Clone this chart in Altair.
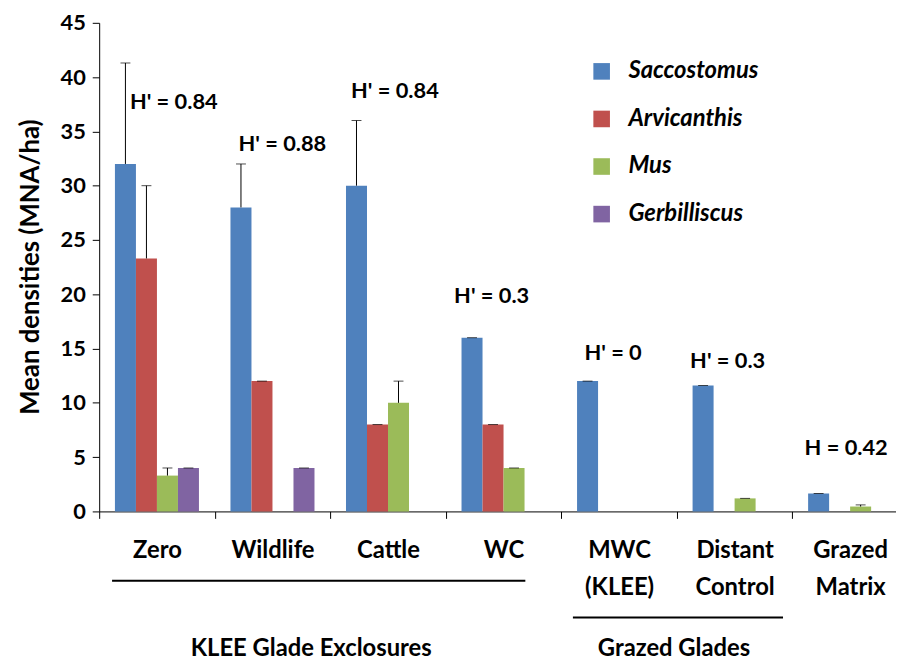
import altair as alt
import pandas as pd

FONT = "Lato"

categories = ["Zero", "Wildlife", "Cattle", "WC", "MWC (KLEE)", "Distant Control", "Grazed Matrix"]
species = ["Saccostomus", "Arvicanthis", "Mus", "Gerbilliscus"]
colors = ["#4F81BD", "#C0504D", "#9BBB59", "#8064A2"]

# mean densities (MNA/ha); None = no bar
saccostomus = [32.0, 28.0, 30.0, 16.0, 12.0, 11.6, 1.65]
arvicanthis = [23.3, 12.0, 8.0, 8.0, None, None, None]
mus = [3.3, None, 10.0, 4.0, None, 1.2, 0.45]
gerbilliscus = [4.0, 4.0, None, None, None, None, None]

# upper error (SE)
saccostomus_err = [9.3, 4.0, 6.0, 0.0, 0.0, 0.0, 0.0]
arvicanthis_err = [6.7, 0.0, 0.0, 0.0, 0.0, 0.0, 0.0]
mus_err = [0.7, 0.0, 2.0, 0.0, 0.0, 0.0, 0.15]
gerbilliscus_err = [0.0, 0.0, 0.0, 0.0, 0.0, 0.0, 0.0]

# diversity annotations
h_labels = ["H' = 0.84", "H' = 0.88", "H' = 0.84", "H' = 0.3", "H' = 0", "H' = 0.3", "H = 0.42"]
h_label_y = [37.7, 33.8, 38.76, 19.8, 14.58, 13.81, 5.81]
h_label_dx = [17, 10, 7, -12, -6, -7, -4]

group_labels = ["KLEE Glade Exclosures", "Grazed Glades"]

rows = []
for sp, vals, errs in [
    ("Saccostomus", saccostomus, saccostomus_err),
    ("Arvicanthis", arvicanthis, arvicanthis_err),
    ("Mus", mus, mus_err),
    ("Gerbilliscus", gerbilliscus, gerbilliscus_err),
]:
    for c, v, e in zip(categories, vals, errs):
        if v is not None:
            rows.append({"category": c, "species": sp, "value": v, "top": v + e})
df = pd.DataFrame(rows)

ann = pd.DataFrame({"category": categories, "label": h_labels, "y": h_label_y, "dx": h_label_dx})

x_enc = alt.X(
    "category:N",
    sort=categories,
    scale=alt.Scale(domain=categories, range=[0, 816], paddingInner=0, paddingOuter=0),
    axis=alt.Axis(
        title=None,
        labelExpr="split(datum.label, ' ')",
        tickBand="extent",
        labelAngle=0,
        labelFont=FONT,
        labelFontSize=24,
        labelFontWeight="bold",
        labelColor="black",
        labelPadding=21,
        labelLineHeight=37,
        labelBaseline="top",
        tickSize=7,
        tickColor="black",
        domainColor="black",
        grid=False,
    ),
)
xoff = alt.XOffset("species:N", sort=species, scale=alt.Scale(domain=species, paddingInner=0, paddingOuter=0.75))

y_enc = alt.Y(
    "value:Q",
    scale=alt.Scale(domain=[0, 45], nice=False),
    axis=alt.Axis(
        values=list(range(0, 50, 5)),
        title="Mean densities (MNA/ha)",
        titleFont=FONT,
        titleFontSize=26,
        titleFontWeight="bold",
        titleColor="black",
        titleX=-69,
        titleY=246,
        titleAngle=270,
        titleAlign="center",
        titleBaseline="middle",
        labelFont=FONT,
        labelFontSize=22,
        labelFontWeight="bold",
        labelColor="black",
        labelPadding=7,
        tickSize=7,
        tickColor="black",
        domainColor="black",
        grid=False,
    ),
)

bars = alt.Chart(df).mark_bar().encode(
    x=x_enc,
    xOffset=xoff,
    y=y_enc,
    color=alt.Color(
        "species:N",
        sort=species,
        scale=alt.Scale(domain=species, range=colors),
        legend=alt.Legend(
            title=None,
            orient="none",
            legendX=495,
            legendY=37,
            symbolType="square",
            symbolSize=280,
            symbolStrokeWidth=0,
            labelFont=FONT,
            labelFontSize=24,
            labelFontWeight="bold",
            labelFontStyle="italic",
            labelColor="black",
            rowPadding=24,
            labelOffset=15,
            padding=0,
        ),
    ),
)

err = alt.Chart(df).mark_rule(color="black", strokeWidth=1).encode(
    x=alt.X("category:N", sort=categories),
    xOffset=alt.XOffset("species:N", sort=species),
    y="value:Q",
    y2="top:Q",
)
caps = alt.Chart(df).mark_tick(color="black", thickness=1, size=10).encode(
    x=alt.X("category:N", sort=categories),
    xOffset=alt.XOffset("species:N", sort=species),
    y=alt.Y("top:Q"),
)

# per-label horizontal offsets
htext_layers = [
    alt.Chart(ann.iloc[[i]]).mark_text(
        font=FONT, fontSize=22, fontWeight="bold", color="black", dx=float(d)
    ).encode(x=alt.X("category:N", sort=categories), y=alt.Y("y:Q"), text="label:N")
    for i, d in enumerate(h_label_dx)
]

line1 = alt.Chart(pd.DataFrame({"g": [group_labels[0]]})).mark_rule(color="black", strokeWidth=2).encode(
    x=alt.value(13), x2=alt.value(430), y=alt.value(563)
)
line2 = alt.Chart(pd.DataFrame({"g": [group_labels[1]]})).mark_rule(color="black", strokeWidth=2).encode(
    x=alt.value(478), x2=alt.value(690), y=alt.value(600)
)
g1 = alt.Chart(pd.DataFrame({"g": [group_labels[0]]})).mark_text(
    font=FONT, fontSize=24, fontWeight="bold", color="black"
).encode(x=alt.value(214), y=alt.value(632), text="g:N")
g2 = alt.Chart(pd.DataFrame({"g": [group_labels[1]]})).mark_text(
    font=FONT, fontSize=24, fontWeight="bold", color="black"
).encode(x=alt.value(580), y=alt.value(632), text="g:N")

chart = alt.layer(bars, err, caps, *htext_layers, line1, line2, g1, g2).properties(
    width=804,
    height=493,
    autosize=alt.AutoSizeParams(type="none"),
    padding={"left": 92, "top": 12, "right": 0, "bottom": 150},
).configure_view(stroke=None)

chart.save("out.html", embed_options={"renderer": "svg", "actions": False})
